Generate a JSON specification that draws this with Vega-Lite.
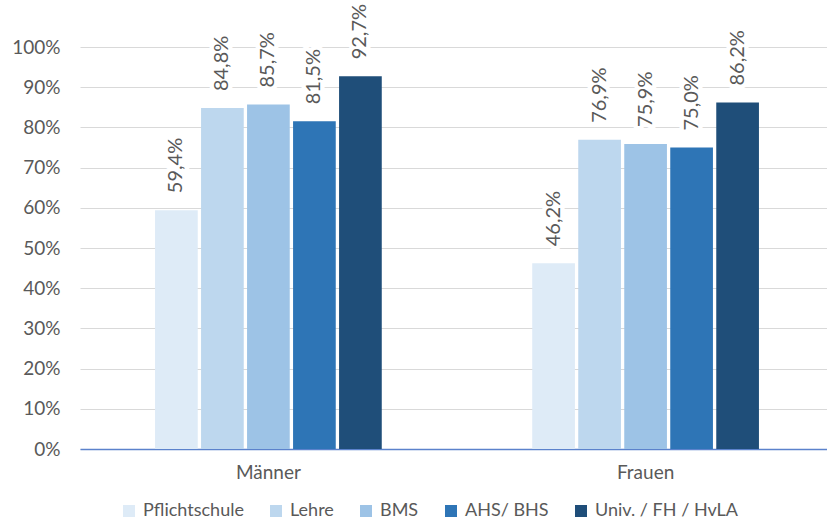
{
  "$schema": "https://vega.github.io/schema/vega-lite/v6.json",
  "width": 747,
  "height": 402,
  "autosize": {"type": "none"},
  "padding": {"left": 80, "top": 47, "right": 0, "bottom": 74},
  "config": {
    "locale": {"number": {"decimal": ",", "thousands": ".", "grouping": [3], "currency": ["", " €"]}},
    "view": {"stroke": null},
    "font": "Lato",
    "axis": {"labelFont": "Lato", "labelFontSize": 19, "labelColor": "#595959", "title": null}
  },
  "data": {
    "values": [
      {"geschlecht": "Männer", "bildung": "Pflichtschule", "anteil": 0.594},
      {"geschlecht": "Männer", "bildung": "Lehre", "anteil": 0.848},
      {"geschlecht": "Männer", "bildung": "BMS", "anteil": 0.857},
      {"geschlecht": "Männer", "bildung": "AHS/ BHS", "anteil": 0.815},
      {"geschlecht": "Männer", "bildung": "Univ. / FH / HvLA", "anteil": 0.927},
      {"geschlecht": "Frauen", "bildung": "Pflichtschule", "anteil": 0.462},
      {"geschlecht": "Frauen", "bildung": "Lehre", "anteil": 0.769},
      {"geschlecht": "Frauen", "bildung": "BMS", "anteil": 0.759},
      {"geschlecht": "Frauen", "bildung": "AHS/ BHS", "anteil": 0.750},
      {"geschlecht": "Frauen", "bildung": "Univ. / FH / HvLA", "anteil": 0.862}
    ]
  },
  "encoding": {
    "x": {
      "field": "geschlecht",
      "type": "nominal",
      "sort": ["Männer", "Frauen"],
      "scale": {"range": [0, 754], "paddingInner": 0.155, "paddingOuter": 0.077},
      "axis": {"labelAngle": 0, "ticks": false, "domainColor": "#5B82CC", "domainWidth": 1.5, "labelPadding": 14, "grid": false}
    },
    "xOffset": {
      "field": "bildung",
      "type": "nominal",
      "sort": ["Pflichtschule", "Lehre", "BMS", "AHS/ BHS", "Univ. / FH / HvLA"],
      "scale": {"paddingInner": 0.072, "paddingOuter": 1}
    },
    "y": {
      "field": "anteil",
      "type": "quantitative",
      "scale": {"domain": [0, 1]},
      "axis": {
        "format": ".0%",
        "values": [0, 0.1, 0.2, 0.3, 0.4, 0.5, 0.6, 0.7, 0.8, 0.9, 1],
        "domain": false,
        "ticks": false,
        "labelPadding": 20,
        "gridColor": "#D9D9D9",
        "gridWidth": 1
      }
    }
  },
  "layer": [
    {
      "mark": {"type": "bar"},
      "encoding": {
        "color": {
          "field": "bildung",
          "type": "nominal",
          "sort": ["Pflichtschule", "Lehre", "BMS", "AHS/ BHS", "Univ. / FH / HvLA"],
          "scale": {
            "domain": ["Pflichtschule", "Lehre", "BMS", "AHS/ BHS", "Univ. / FH / HvLA"],
            "range": ["#DEEBF7", "#BDD7EE", "#9DC3E6", "#2E75B6", "#1F4E79"]
          },
          "legend": {
            "title": null,
            "orient": "none",
            "direction": "horizontal",
            "legendX": 40,
            "legendY": 455,
            "symbolType": "square",
            "symbolSize": 144,
            "symbolStrokeWidth": 0,
            "labelFontSize": 18,
            "labelFont": "Lato",
            "labelColor": "#595959",
            "labelOffset": 5,
            "columnPadding": 23
          }
        }
      }
    },
    {
      "mark": {"type": "text", "angle": 270, "align": "left", "baseline": "middle", "dx": 17, "fontSize": 20, "font": "Lato", "stroke": "white", "strokeWidth": 9, "strokeJoin": "round", "fill": "white"},
      "encoding": {"text": {"field": "anteil", "type": "quantitative", "format": ".1%"}}
    },
    {
      "mark": {"type": "text", "angle": 270, "align": "left", "baseline": "middle", "dx": 17, "fontSize": 20, "font": "Lato", "fill": "#595959"},
      "encoding": {"text": {"field": "anteil", "type": "quantitative", "format": ".1%"}}
    }
  ]
}
